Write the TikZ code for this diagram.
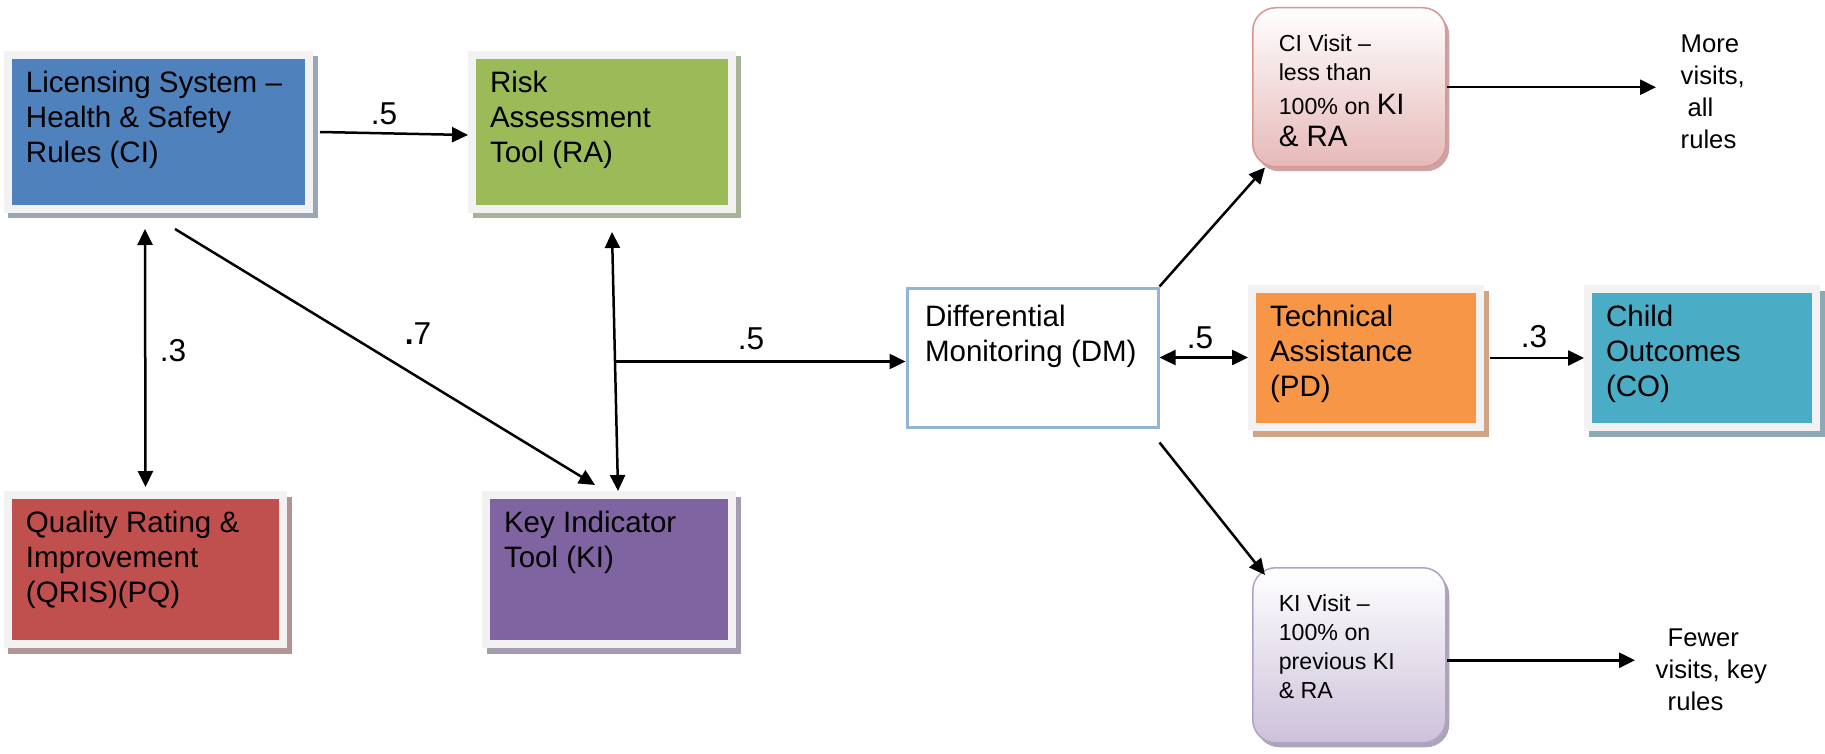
\documentclass[tikz,border=0pt]{standalone}
\usepackage{fontspec}
\setmainfont{Liberation Sans}
\usetikzlibrary{arrows.meta}

\definecolor{frame}{HTML}{F2F2F2}
\definecolor{ciblue}{HTML}{4F81BD}
\definecolor{cishade}{HTML}{9AA6B6}
\definecolor{ragreen}{HTML}{9BBB59}
\definecolor{rashade}{HTML}{A6B394}
\definecolor{pqred}{HTML}{C0504D}
\definecolor{pqshade}{HTML}{B39394}
\definecolor{kipurple}{HTML}{8064A2}
\definecolor{kishade}{HTML}{A59CB1}
\definecolor{pdorange}{HTML}{F79646}
\definecolor{pdshade}{HTML}{D2A483}
\definecolor{coteal}{HTML}{4BACC6}
\definecolor{coshade}{HTML}{8DA9B6}
\definecolor{dmline}{HTML}{95B3D7}
\definecolor{civline}{HTML}{D99694}
\definecolor{civfill}{HTML}{E6B9B8}
\definecolor{civshade}{HTML}{CDA3A3}
\definecolor{kivline}{HTML}{B3A2C7}
\definecolor{kivfill}{HTML}{CCC1DA}
\definecolor{kivshade}{HTML}{ADA4B8}

\newcommand{\boxfont}{\fontsize{8.4}{9.9}\selectfont}
\newcommand{\smallfont}{\fontsize{6.6}{8.25}\selectfont}
\newcommand{\sidefont}{\fontsize{7.3}{9.1}\selectfont}
\newcommand{\btxt}[3]{\parbox[t][#2][t]{#1}{\strut #3}}

\tikzset{
	box/.style 2 args={draw=frame, line width=0.8mm, fill=#1, anchor=north west,
		inner xsep=0.18cm, inner ysep=0.135cm, font=\boxfont,
		preaction={draw=#2, fill=#2, line width=0.8mm, transform canvas={shift={(0.045,-0.055)}}}},
	dmbox/.style={draw=dmline, line width=0.3mm, fill=white, anchor=north west,
		inner xsep=0.18cm, inner ysep=0.145cm, font=\boxfont},
	visit/.style n args={3}{draw=#1, line width=0.15mm, rounded corners=0.23cm,
		top color=white, bottom color=#2, anchor=north west,
		inner xsep=0.26cm, inner ysep=0.23cm, font=\smallfont,
		preaction={fill=#3, transform canvas={shift={(0.035,-0.045)}}}},
	side/.style={anchor=north west, align=left, inner ysep=0cm, font=\sidefont},
	wt/.style={font=\fontsize{9}{10}\selectfont, inner sep=0pt},
	>={Triangle[length=1.6mm, width=1.5mm]},
	conn/.style={->, line width=0.25mm},
}

\begin{document}
\begin{tikzpicture}
		\useasboundingbox (0, 0) rectangle (18.25, 7.53);

		\node[box={ciblue}{cishade}] (ci) at(0.04, 7.02){\btxt{2.65cm}{1.27cm}{Licensing System --\\ Health \& Safety\\ Rules (CI)}};
		\node[box={ragreen}{rashade}] (ra) at(4.68, 7.02){\btxt{2.24cm}{1.27cm}{Risk\\ Assessment\\ Tool (RA)}};
		\node[box={pqred}{pqshade}] (pq) at(0.04, 2.62){\btxt{2.39cm}{1.22cm}{Quality Rating \&\\ Improvement\\ (QRIS)(PQ)}};
		\node[box={kipurple}{kishade}] (ki) at(4.82, 2.62){\btxt{2.10cm}{1.22cm}{Key Indicator\\ Tool (KI)}};
		\node[dmbox] (dm) at(9.055, 4.665){\btxt{2.15cm}{1.10cm}{Differential\\ Monitoring (DM)}};
		\node[box={pdorange}{pdshade}] (pd) at(12.48, 4.68){\btxt{1.92cm}{1.11cm}{Technical\\ Assistance\\ (PD)}};
		\node[box={coteal}{coshade}] (co) at(15.84, 4.68){\btxt{1.92cm}{1.11cm}{Child\\ Outcomes\\ (CO)}};

		\node[visit={civline}{civfill}{civshade}] (civ) at(12.52, 7.46){\btxt{1.41cm}{1.13cm}{CI Visit --\\ less than\\[0.05cm] 100\% on {\boxfont KI}\\[0.03cm] {\boxfont \& RA}}};
		\node[visit={kivline}{kivfill}{kivshade}] (kiv) at(12.52, 1.86){\btxt{1.41cm}{1.29cm}{KI Visit --\\ 100\% on\\ previous KI\\ \& RA}};

		\node[side, inner xsep=0.24cm] (more) at(16.56, 7.19){More\\ visits,\\ \hspace*{0.07cm}all\\ rules};
		\node[side, inner xsep=0.2cm] (fewer) at(16.35, 1.25){\hspace*{0.12cm}Fewer\\ visits, key\\ \hspace*{0.12cm}rules};

		\draw[conn] ([xshift=0.07cm]ci.east) to ([yshift=-0.03cm]ra.west);
		\draw[conn, <->] ([shift={(-0.135,-0.16)}]ci.south) to ([yshift=0.04cm]pq.north);
		\draw[conn] ([shift={(0.165,-0.16)}]ci.south) to ([shift={(-0.14,0.06)}]ki.north);
		\draw[conn, <->] ([shift={(0.10,-0.19)}]ra.south) to coordinate[pos=0.5] (j) ([xshift=0.09cm]ki.north);
		\draw[conn] (j) to (j -| dm.west);
		\draw[conn, <->] (dm.east) to (dm.east -| pd.west);
		\draw[conn] ([xshift=0.06cm]pd.east) to (co.west);
		\draw[conn] (dm.north east) to ([xshift=0.13cm]civ.south west);
		\draw[conn] ([yshift=-0.14cm]dm.south east) to ([shift={(0.13,-0.08)}]kiv.north west);
		\draw[conn] (civ.east) to (civ.east -| more.west);
		\coordinate (kivo) at ([yshift=-0.05cm]kiv.east);
		\draw[conn] (kivo) to (kivo -| fewer.west);

		\node[wt] (w1) at(3.84, 6.39){.5};
		\node[wt] (w2) at(1.73, 4.02){.3};
		\node[wt] (w3) at(4.18, 4.19){{\bfseries .}7};
		\node[wt] (w4) at(7.51, 4.14){.5};
		\node[wt] (w5) at(12.00, 4.15){.5};
		\node[wt] (w6) at(15.34, 4.16){.3};

\end{tikzpicture}
\end{document}
